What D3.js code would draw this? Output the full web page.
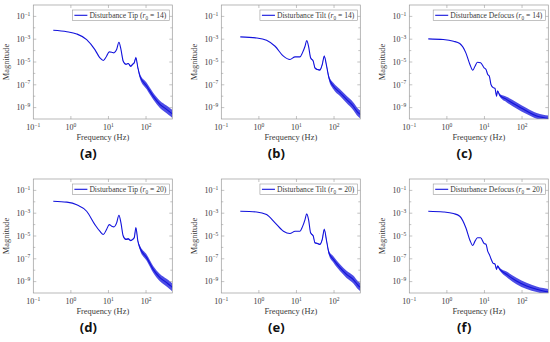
<!DOCTYPE html>
<html>
<head>
<meta charset="utf-8">
<script src="https://cdn.jsdelivr.net/npm/d3@7"></script>
<style>
body { margin: 0; background: #fff; }
svg { display: block; }
</style>
</head>
<body>
<svg></svg>
<script>
// frequency grids (Hz)
var tipFreq = [0.34, 0.78, 1.43, 2.63, 4.36, 5.9, 7.3, 8.9, 10.5, 12.2, 14, 16.5, 19, 21.5, 24.7, 29.3, 33.7, 39, 44, 48.5, 53.7, 60.7, 68.7, 104, 155, 234, 352, 455, 500];
var tiltFreq = [0.32, 0.87, 1.6, 2.7, 4.5, 6.7, 9.2, 12.4, 14.4, 16.9, 18.7, 21, 23.8, 28, 31, 36, 42, 48.6, 55, 63.5, 73, 96, 144, 215, 323, 436, 500];
var defocusFreq = [0.32, 0.8, 1.5, 2.2, 3.2, 4.1, 4.9, 5.6, 6.5, 7.9, 9.8, 11, 12.2, 13.5, 14.9, 17.1, 19, 21, 22.3, 25.7, 38.6, 71, 132, 245, 366, 500];

// log10 of magnitude
var tipLog14 = [-2.22, -2.34, -2.54, -3.03, -3.91, -4.63, -4.87, -4.49, -4.11, -4.14, -4.2, -3.91, -3.27, -3.9, -4.93, -5.2, -5.13, -5.37, -5.2, -5.07, -4.63, -5.51, -6.24, -7.11, -7.99, -8.71, -9.15, -9.44, -9.55];
var tipLog20 = [-1.95, -2.03, -2.25, -2.83, -4.0, -4.58, -4.87, -4.43, -4.0, -4.14, -4.2, -3.85, -3.18, -3.85, -5.0, -5.3, -5.25, -5.4, -5.3, -5.16, -4.28, -5.45, -6.03, -6.9, -7.93, -8.65, -9.09, -9.38, -9.5];
var tiltLog14 = [-2.8, -2.89, -3.1, -3.62, -4.49, -4.78, -4.55, -4.55, -4.2, -3.62, -3.12, -3.62, -4.63, -4.93, -5.51, -5.66, -5.7, -5.22, -4.49, -5.37, -6.38, -7.11, -7.69, -8.28, -8.86, -9.44, -9.6];
var tiltLog20 = [-2.83, -2.89, -3.12, -3.85, -4.58, -4.78, -4.58, -4.58, -4.2, -3.56, -3.06, -3.56, -4.72, -5.0, -5.6, -5.65, -5.74, -5.3, -4.43, -5.45, -6.47, -7.05, -7.78, -8.36, -8.8, -9.32, -9.5];
var defocusLog14 = [-2.97, -3.03, -3.18, -3.38, -4.2, -5.22, -5.72, -5.37, -5.02, -5.07, -5.51, -5.66, -6.09, -6.24, -6.97, -7.25, -7.3, -7.99, -7.55, -7.93, -8.28, -8.8, -9.3, -9.73, -9.87, -9.95];
var defocusLog20 = [-2.83, -2.89, -3.03, -3.27, -4.28, -5.37, -5.83, -5.45, -5.16, -5.16, -5.66, -5.72, -6.33, -6.62, -6.99, -7.4, -7.45, -7.93, -7.64, -7.93, -8.36, -8.95, -9.38, -9.67, -9.82, -9.9];

// half width of the noisy band (decades)
var tipSpread = [0, 0, 0, 0, 0, 0, 0, 0, 0, 0, 0, 0, 0, 0, 0.04, 0.05, 0.05, 0.06, 0.06, 0.07, 0.08, 0.1, 0.2, 0.28, 0.3, 0.32, 0.34, 0.35, 0.35];
var tiltSpread = [0, 0, 0, 0, 0, 0, 0, 0, 0, 0, 0, 0, 0.03, 0.04, 0.05, 0.05, 0.06, 0.07, 0.08, 0.1, 0.2, 0.28, 0.3, 0.32, 0.34, 0.35, 0.35];
var defocusSpread = [0, 0, 0, 0, 0, 0, 0, 0, 0, 0, 0, 0, 0, 0, 0, 0, 0.03, 0.06, 0.08, 0.12, 0.24, 0.28, 0.27, 0.25, 0.25, 0.25];

var xTicks = [0.1, 1, 10, 100];
var yTicks = [1e-1, 1e-3, 1e-5, 1e-7, 1e-9];
var xExp = ["\u22121", "0", "1", "2"];
var yExp = ["\u22121", "\u22123", "\u22125", "\u22127", "\u22129"];

var panels = [
	{tag: "(a)", name: "Tip", r0: 14, freq: tipFreq, mag: tipLog14, spread: tipSpread, col: 0, row: 0},
	{tag: "(b)", name: "Tilt", r0: 14, freq: tiltFreq, mag: tiltLog14, spread: tiltSpread, col: 1, row: 0},
	{tag: "(c)", name: "Defocus", r0: 14, freq: defocusFreq, mag: defocusLog14, spread: defocusSpread, col: 2, row: 0},
	{tag: "(d)", name: "Tip", r0: 20, freq: tipFreq, mag: tipLog20, spread: tipSpread, col: 0, row: 1},
	{tag: "(e)", name: "Tilt", r0: 20, freq: tiltFreq, mag: tiltLog20, spread: tiltSpread, col: 1, row: 1},
	{tag: "(f)", name: "Defocus", r0: 20, freq: defocusFreq, mag: defocusLog20, spread: defocusSpread, col: 2, row: 1}
];

var width = 550, height = 342;
var colLeft = [33.3, 221.3, 409.3];
var rowTop = [5, 179];
var plotW = 139, plotH = 114;
var blue = "#1212dc";
var boxCol = "#9a9a9a";
var txtCol = "#3a3a3a";
var serif = "'Liberation Serif', 'Times New Roman', serif";

var svg = d3.select("svg").attr("width", width).attr("height", height);

function drawPanel(p, i){
	var left = colLeft[p.col], top = rowTop[p.row];
	var x = d3.scaleLog().domain([0.1, 500]).range([left, left + plotW]);
	var y = d3.scaleLog().domain([1e-10, 1]).range([top + plotH, top]);

	var pts = p.freq.map((f, k) => ({f: f, m: p.mag[k], s: p.spread[k]}));

	svg.append("clipPath").attr("id", "clip" + i)
	.append("rect")
	.attr("x", left).attr("y", top)
	.attr("width", plotW).attr("height", plotH);

	var g = svg.append("g").attr("clip-path", "url(#clip" + i + ")");

	var band = d3.area()
	.x(d => x(d.f))
	.y0(d => y(Math.pow(10, d.m - d.s)))
	.y1(d => y(Math.pow(10, d.m + d.s)))
	.curve(d3.curveMonotoneX);

	g.append("path")
	.datum(pts)
	.attr("d", band)
	.attr("fill", blue)
	.attr("fill-opacity", 0.75);

	var line = d3.line()
	.x(d => x(d.f))
	.y(d => y(Math.pow(10, d.m)))
	.curve(d3.curveMonotoneX);

	g.append("path")
	.datum(pts)
	.attr("d", line)
	.attr("fill", "none")
	.attr("stroke", blue)
	.attr("stroke-width", 1.1);

	// frame
	svg.append("rect")
	.attr("x", left).attr("y", top)
	.attr("width", plotW).attr("height", plotH)
	.attr("fill", "none")
	.attr("stroke", boxCol)
	.attr("stroke-width", 0.7);

	// ticks on all sides
	var tk = svg.append("g").attr("stroke", boxCol).attr("stroke-width", 0.6);
	xTicks.filter(v => v > 0.1).forEach(v => {
		tk.append("line").attr("x1", x(v)).attr("x2", x(v)).attr("y1", top + plotH).attr("y2", top + plotH - 3);
		tk.append("line").attr("x1", x(v)).attr("x2", x(v)).attr("y1", top).attr("y2", top + 3);
	});
	y.ticks().filter(v => Math.abs(Math.log10(v) - Math.round(Math.log10(v))) < 1e-6)
	.filter(v => v > 1e-10 && v < 1)
	.forEach(v => {
		var len = yTicks.indexOf(v) >= 0 ? 3 : 2;
		tk.append("line").attr("x1", left).attr("x2", left + len).attr("y1", y(v)).attr("y2", y(v));
		tk.append("line").attr("x1", left + plotW).attr("x2", left + plotW - len).attr("y1", y(v)).attr("y2", y(v));
	});

	// tick labels
	xTicks.forEach((v, k) => {
		var t = svg.append("text")
		.attr("x", x(v)).attr("y", top + plotH + 11)
		.attr("text-anchor", "middle")
		.attr("font-family", serif).attr("font-size", 8)
		.attr("fill", txtCol)
		.text("10");
		t.append("tspan").attr("dy", -3.2).attr("font-size", 5.5).text(xExp[k]);
	});
	yTicks.forEach((v, k) => {
		var t = svg.append("text")
		.attr("x", left - 3).attr("y", y(v) + 2.8)
		.attr("text-anchor", "end")
		.attr("font-family", serif).attr("font-size", 8)
		.attr("fill", txtCol)
		.text("10");
		t.append("tspan").attr("dy", -3.2).attr("font-size", 5.5).text(yExp[k]);
	});

	// axis titles
	svg.append("text")
	.attr("x", left + plotW / 2).attr("y", top + plotH + 21)
	.attr("text-anchor", "middle")
	.attr("font-family", serif).attr("font-size", 8.4)
	.attr("fill", txtCol)
	.text("Frequency (Hz)");

	svg.append("text")
	.attr("transform", "translate(" + (left - 24) + "," + (top + plotH / 2) + ") rotate(-90)")
	.attr("text-anchor", "middle")
	.attr("font-family", serif).attr("font-size", 8.4)
	.attr("fill", txtCol)
	.text("Magnitude");

	// legend
	var lg = svg.append("g");
	var lt = lg.append("text")
	.attr("font-family", serif).attr("font-size", 7.6)
	.attr("fill", txtCol)
	.attr("y", top + 13)
	.text("Disturbance " + p.name + " (");
	lt.append("tspan").attr("font-style", "italic").text("r");
	lt.append("tspan").attr("font-size", 5.2).attr("dy", 1.5).text("0");
	lt.append("tspan").attr("dy", -1.5).text(" = " + p.r0 + ")");
	var tw = lt.node().getComputedTextLength();
	var boxW = tw + 20;
	var bx = left + plotW - 3 - boxW;
	lt.attr("x", bx + 17);
	lg.insert("rect", "text")
	.attr("x", bx).attr("y", top + 5)
	.attr("width", boxW).attr("height", 10.5)
	.attr("fill", "#fff")
	.attr("stroke", boxCol).attr("stroke-width", 0.6);
	lg.append("line")
	.attr("x1", bx + 2).attr("x2", bx + 15)
	.attr("y1", top + 10.3).attr("y2", top + 10.3)
	.attr("stroke", blue).attr("stroke-width", 1.1);

	// caption
	svg.append("text")
	.attr("x", left + 55).attr("y", top + plotH + 38.5)
	.attr("text-anchor", "middle")
	.attr("font-family", "'Noto Sans', 'Open Sans', sans-serif")
	.attr("font-weight", "bold").attr("font-size", 13)
	.attr("fill", "#111")
	.text(p.tag);
}

panels.forEach(drawPanel);
</script>
</body>
</html>
